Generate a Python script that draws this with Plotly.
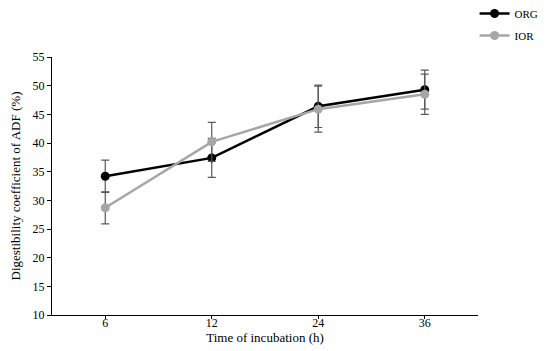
import plotly.graph_objects as go

times = ["6", "12", "24", "36"]
org = [34.2, 37.4, 46.4, 49.3]
org_err = [2.8, 3.4, 3.7, 3.4]
ior = [28.7, 40.2, 45.9, 48.5]
ior_err = [2.8, 3.4, 4.0, 3.5]
star_label = "*"

font = "Liberation Serif, Times New Roman, serif"
fig = go.Figure()
fig.add_trace(go.Scatter(
    x=times, y=org, name="ORG", mode="lines+markers", legendgroup="a",
    line=dict(color="black", width=2.5), marker=dict(color="black", size=9),
    error_y=dict(type="data", array=org_err, color="#595959", thickness=1.2, width=4),
))
fig.add_trace(go.Scatter(
    x=times, y=ior, name="IOR", mode="lines+markers", legendgroup="b",
    line=dict(color="#A6A6A6", width=2.5), marker=dict(color="#A6A6A6", size=9),
    error_y=dict(type="data", array=ior_err, color="#595959", thickness=1.2, width=4),
))
fig.add_annotation(x=times[0], y=org[0] + org_err[0] + 1.8, text=star_label,
                   showarrow=False, font=dict(family=font, size=15, color="#333"))
fig.update_layout(
    width=550, height=351, margin=dict(l=44, r=80, t=49, b=44, autoexpand=False),
    paper_bgcolor="white", plot_bgcolor="white",
    font=dict(family=font, size=12, color="black"),
    showlegend=True,
    legend=dict(x=0.992, y=1.225, xanchor="left", yanchor="top", bgcolor="rgba(0,0,0,0)",
                font=dict(family=font, size=11), itemwidth=30, tracegroupgap=3),
    xaxis=dict(type="category", range=[-0.5, 3.5], showline=True, linecolor="black", linewidth=1,
               ticks="outside", ticklen=3, tickcolor="black", showgrid=False, automargin=False,
               tickfont=dict(size=12), ticklabelstandoff=-6,
               title=dict(text="Time of incubation (h)", standoff=0, font=dict(size=13))),
    yaxis=dict(range=[10, 55], dtick=5, showline=True, linecolor="black", linewidth=1,
               ticks="outside", ticklen=4, tickcolor="black", showgrid=False, zeroline=False,
               automargin=False, tickfont=dict(size=12),
               title=dict(text="Digestibility coefficient of ADF (%)", standoff=12, font=dict(size=13))),
)
fig.write_html("out.html")
